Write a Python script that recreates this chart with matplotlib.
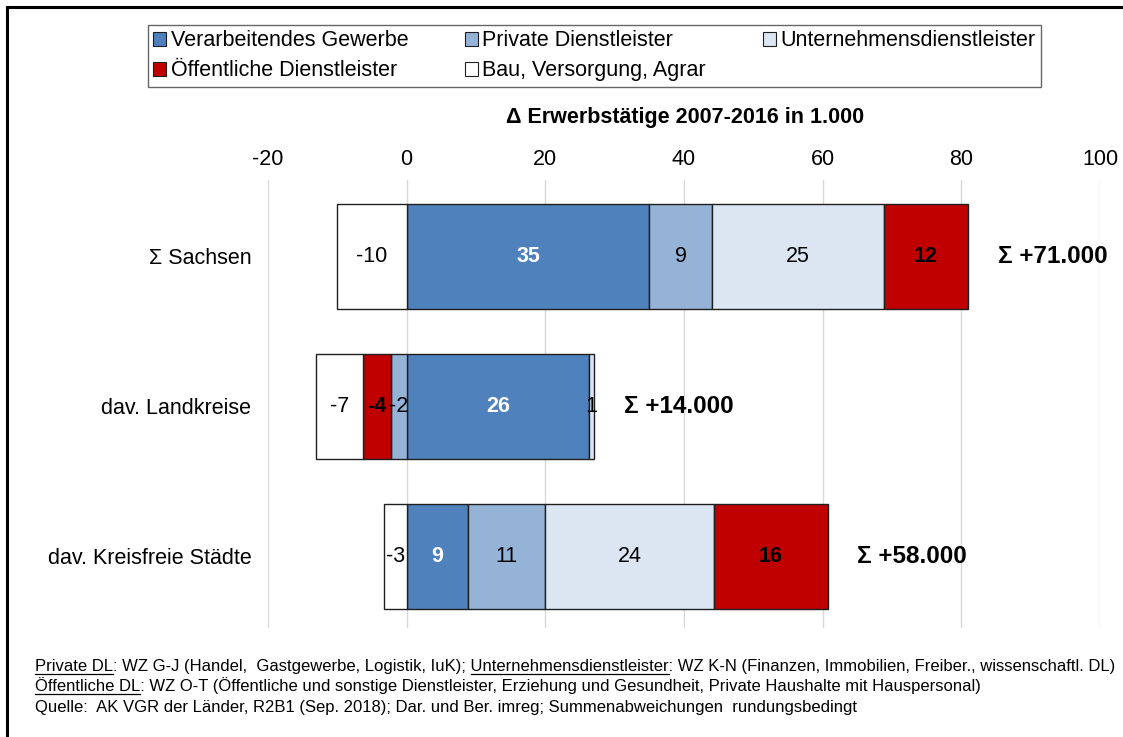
import matplotlib
matplotlib.use("Agg")
import matplotlib.pyplot as plt
from matplotlib.patches import Patch
from matplotlib.lines import Line2D

plt.rcParams['font.family'] = ['Liberation Sans', 'DejaVu Sans']
plt.rcParams['axes.unicode_minus'] = False

# Daten (Δ Erwerbstätige 2007-2016 in 1.000)
kategorien = ['Σ Sachsen', 'dav. Landkreise', 'dav. Kreisfreie Städte']
verarbeitend = [35.0, 26.3, 8.8]
private_dl = [9.0, -2.3, 11.2]
unternehmen_dl = [24.8, 0.7, 24.3]
oeffentlich_dl = [12.2, -4.0, 16.4]
bau = [-10.1, -6.8, -3.3]
summen = [71, 14, 58]

reihen = [
    ('Verarbeitendes Gewerbe', verarbeitend, '#4F81BD', 'white', 'bold'),
    ('Private Dienstleister', private_dl, '#95B3D7', 'black', 'normal'),
    ('Unternehmensdienstleister', unternehmen_dl, '#DCE6F2', 'black', 'normal'),
    ('Öffentliche Dienstleister', oeffentlich_dl, '#C00000', 'black', 'bold'),
    ('Bau, Versorgung, Agrar', bau, '#FFFFFF', 'black', 'normal'),
]

W, H = 1123, 737
fig = plt.figure(figsize=(W / 100, H / 100), dpi=100)
ax = fig.add_axes([268 / W, 1 - 628 / H, (1100 - 268) / W, (628 - 180) / H])

y = list(range(len(kategorien)))
pos_start = [0.0] * len(kategorien)
neg_start = [0.0] * len(kategorien)
handles = {}
for name, werte, farbe, tfarbe, tgew in reihen:
    lefts = []
    for i, v in enumerate(werte):
        if v >= 0:
            lefts.append(pos_start[i])
            pos_start[i] += v
        else:
            neg_start[i] += v
            lefts.append(neg_start[i])
    breiten = [abs(v) for v in werte]
    bars = ax.barh(y, breiten, left=lefts, height=0.7, color=farbe,
                   edgecolor='#1f1f1f', linewidth=1.0, zorder=2)
    for b, v, l in zip(bars, werte, lefts):
        ax.text(l + abs(v) / 2, b.get_y() + b.get_height() / 2, f'{round(v):d}',
                ha='center', va='center', color=tfarbe, fontsize=15.5,
                fontweight=tgew, zorder=3)
    handles[name] = Patch(facecolor=farbe, edgecolor='#1f1f1f', linewidth=0.8)

for i, s in enumerate(summen):
    ax.text(pos_start[i] + 4.3, i, f'Σ +{s}.000', ha='left', va='center',
            fontsize=17.5, fontweight='bold', zorder=3)

ax.set_xlim(-20, 100)
ax.set_ylim(2.48, -0.51)
ax.set_yticks(y)
ax.set_yticklabels(kategorien, fontsize=15.5)
ax.set_xticks(range(-20, 101, 20))
ax.xaxis.tick_top()
ax.tick_params(axis='x', length=0, labelsize=15.5, pad=7)
ax.tick_params(axis='y', length=0, pad=12)
ax.grid(axis='x', color='#D9D9D9', linewidth=1.0, zorder=0)
ax.set_axisbelow(True)
for sp in ax.spines.values():
    sp.set_visible(False)

fig.text(685 / W, 1 - 118 / H, 'Δ Erwerbstätige 2007-2016 in 1.000', ha='center',
         va='center', fontsize=15.5, fontweight='bold')

# Legende zeilenweise wie im Original
reihenfolge = ['Verarbeitendes Gewerbe', 'Öffentliche Dienstleister',
               'Private Dienstleister', 'Bau, Versorgung, Agrar',
               'Unternehmensdienstleister']
leg = fig.legend([handles[n] for n in reihenfolge], reihenfolge, ncol=3,
                 loc='upper left', bbox_to_anchor=(148 / W, 1 - 25 / H),
                 fontsize=15.5, frameon=True, fancybox=False, edgecolor='#404040',
                 handlelength=0.6, handleheight=0.6, handletextpad=0.2,
                 columnspacing=2.65, labelspacing=0.42, borderpad=0.25,
                 borderaxespad=0)
leg.get_frame().set_linewidth(1.0)

# Fußnoten mit Unterstreichungen
fuss = [
    ('Private DL: WZ G-J (Handel,  Gastgewerbe, Logistik, IuK); Unternehmensdienstleister: '
     'WZ K-N (Finanzen, Immobilien, Freiber., wissenschaftl. DL)',
     ['Private DL', 'Unternehmensdienstleister']),
    ('Öffentliche DL: WZ O-T (Öffentliche und sonstige Dienstleister, Erziehung und '
     'Gesundheit, Private Haushalte mit Hauspersonal)', ['Öffentliche DL']),
    ('Quelle:  AK VGR der Länder, R2B1 (Sep. 2018); Dar. und Ber. imreg; '
     'Summenabweichungen  rundungsbedingt', []),
]
fs_fuss = 12
renderer = fig.canvas.get_renderer()
x0 = 35
for k, (txt, unter) in enumerate(fuss):
    yb = 671 + k * 20.5
    fig.text(x0 / W, 1 - yb / H, txt, ha='left', va='baseline', fontsize=fs_fuss)
    for wort in unter:
        ende = txt.index(wort) + len(wort)
        probe = fig.text(0, 0, txt[:ende], fontsize=fs_fuss)
        wprobe = fig.text(0, 0, wort, fontsize=fs_fuss)
        x_end = x0 + probe.get_window_extent(renderer).width
        x_start = x_end - wprobe.get_window_extent(renderer).width
        probe.remove()
        wprobe.remove()
        fig.add_artist(Line2D([x_start / W, x_end / W], [1 - (yb + 2.5) / H] * 2,
                              color='black', linewidth=0.9))

# Rahmen
fig.add_artist(Line2D([7 / W, 7 / W], [0, 1 - 7 / H], color='black', linewidth=2.2))
fig.add_artist(Line2D([7 / W, 1], [1 - 7 / H, 1 - 7 / H], color='black', linewidth=2.2))

fig.savefig('out.png', dpi=100)
